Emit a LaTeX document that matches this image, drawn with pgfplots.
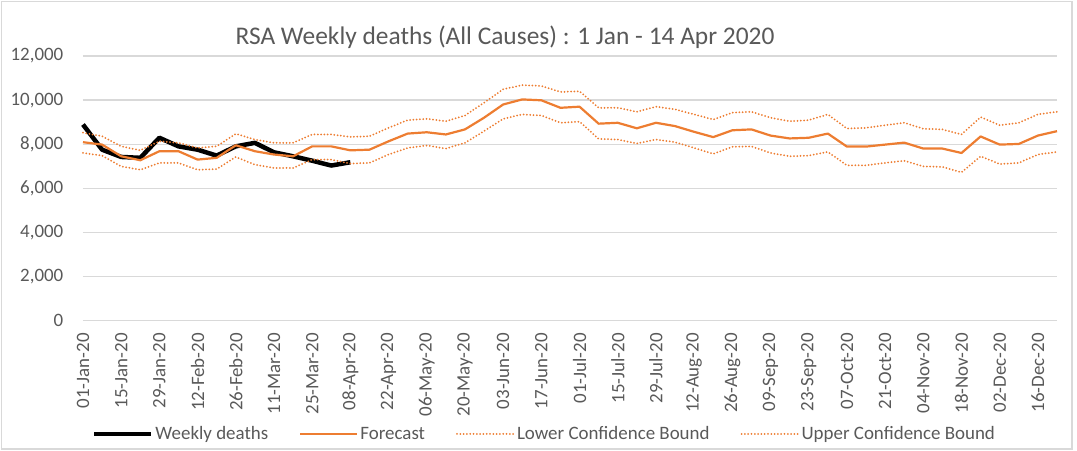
\documentclass[border=0pt]{standalone}
\usepackage{pgfplots}
\pgfplotsset{compat=1.18}
\usepackage{fontspec}
\setmainfont{Carlito}
\definecolor{textgray}{HTML}{595959}
\definecolor{gridgray}{HTML}{D9D9D9}
\definecolor{xlorange}{HTML}{ED7D31}
\begin{document}
\begin{tikzpicture}
\begin{axis}[
  at={(0,0)}, anchor=south west,
  scale only axis, width=974bp, height=264.5bp,
  xmin=0, xmax=51, ymin=0, ymax=12000,
  clip=false,
  axis line style={draw=none},
  major tick length=0pt,
  ymajorgrids, grid style={color=gridgray, line width=1.3bp},
  xtick={0,2,...,50},
  xticklabels={01-Jan-20,15-Jan-20,29-Jan-20,12-Feb-20,26-Feb-20,11-Mar-20,25-Mar-20,08-Apr-20,22-Apr-20,06-May-20,20-May-20,03-Jun-20,17-Jun-20,01-Jul-20,15-Jul-20,29-Jul-20,12-Aug-20,26-Aug-20,09-Sep-20,23-Sep-20,07-Oct-20,21-Oct-20,04-Nov-20,18-Nov-20,02-Dec-20,16-Dec-20},
  ytick={0,2000,...,12000},
  scaled y ticks=false,
  /pgf/number format/assume math mode=true,
  /pgf/number format/fixed,
  /pgf/number format/1000 sep={,},
  tick label style={font=\fontsize{19}{21}\selectfont, text=textgray},
  xticklabel style={rotate=90, anchor=east, inner sep=0pt, xshift=-12.5bp},
  yticklabel style={anchor=east, inner sep=0pt, xshift=-19.5bp},
  legend columns=4,
  legend style={draw=none, fill=none, at={(0.4738,-0.429)}, anchor=center,
    font=\fontsize{19}{21}\selectfont, text=textgray,
    /tikz/every even column/.append style={column sep=29bp}},
  legend image code/.code={\draw[#1] (0bp,0bp) -- (57bp,0bp);},
]
\addplot[black, line width=4.5bp, line join=round] coordinates {
(0,8890) (1,7750) (2,7420) (3,7380) (4,8290) (5,7900) (6,7750) (7,7480)
(8,7900) (9,8060) (10,7630) (11,7450) (12,7250) (13,7030) (14,7180)
};
\addlegendentry{Weekly deaths}
\addplot[xlorange, line width=2.2bp, line join=round] coordinates {
(0,8090) (1,7980) (2,7450) (3,7270) (4,7680) (5,7680) (6,7300) (7,7380)
(8,7950) (9,7680) (10,7530) (11,7450) (12,7900) (13,7900) (14,7720) (15,7750)
(16,8130) (17,8480) (18,8540) (19,8440) (20,8670) (21,9200) (22,9800) (23,10030)
(24,9990) (25,9650) (26,9700) (27,8930) (28,8970) (29,8720) (30,8970) (31,8820)
(32,8560) (33,8320) (34,8630) (35,8670) (36,8390) (37,8260) (38,8290) (39,8480)
(40,7890) (41,7890) (42,7980) (43,8070) (44,7800) (45,7800) (46,7600) (47,8350)
(48,7980) (49,8010) (50,8390) (51,8590)
};
\addlegendentry{Forecast}
\addplot[xlorange, line width=2bp, line cap=round, dash pattern=on 0bp off 3.3bp] coordinates {
(0,7600) (1,7480) (2,6990) (3,6840) (4,7150) (5,7150) (6,6840) (7,6870)
(8,7420) (9,7070) (10,6920) (11,6920) (12,7300) (13,7300) (14,7120) (15,7150)
(16,7530) (17,7830) (18,7940) (19,7800) (20,8060) (21,8590) (22,9150) (23,9350)
(24,9300) (25,8970) (26,9020) (27,8240) (28,8210) (29,8030) (30,8210) (31,8090)
(32,7830) (33,7560) (34,7880) (35,7900) (36,7600) (37,7450) (38,7480) (39,7650)
(40,7040) (41,7040) (42,7150) (43,7250) (44,6990) (45,6970) (46,6720) (47,7450)
(48,7100) (49,7150) (50,7530) (51,7650)
};
\addlegendentry{Lower Confidence Bound}
\addplot[xlorange, line width=2bp, line cap=round, dash pattern=on 0bp off 3.3bp] coordinates {
(0,8520) (1,8360) (2,7900) (3,7720) (4,8130) (5,8060) (6,7830) (7,7900)
(8,8470) (9,8210) (10,8060) (11,8060) (12,8440) (13,8440) (14,8330) (15,8360)
(16,8740) (17,9090) (18,9150) (19,9040) (20,9300) (21,9880) (22,10490) (23,10680)
(24,10640) (25,10370) (26,10400) (27,9650) (28,9650) (29,9470) (30,9700) (31,9580)
(32,9350) (33,9120) (34,9430) (35,9470) (36,9200) (37,9040) (38,9090) (39,9350)
(40,8710) (41,8740) (42,8860) (43,8970) (44,8700) (45,8670) (46,8440) (47,9230)
(48,8860) (49,8970) (50,9350) (51,9470)
};
\addlegendentry{Upper Confidence Bound}
\end{axis}
\node[text=textgray, font=\fontsize{25.5}{30}\selectfont] at (422bp,283.5bp) {RSA Weekly deaths (All Causes) : 1 Jan - 14 Apr 2020};
\draw[gridgray, line width=1.2bp] (-81.5bp,-128.5bp) rectangle (989bp,319bp);
\pgfresetboundingbox
\useasboundingbox (-83bp,-130.5bp) rectangle (994bp,320.5bp);
\end{tikzpicture}
\end{document}
